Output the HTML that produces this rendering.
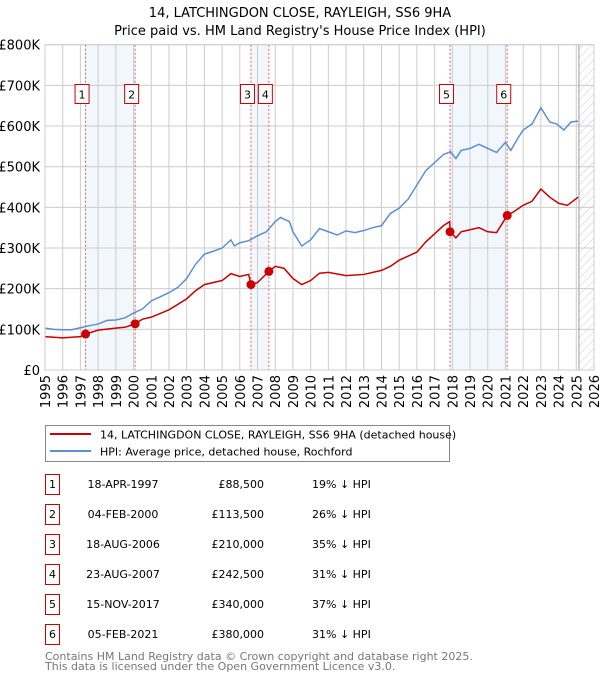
<!DOCTYPE html>
<html><head><meta charset="utf-8"><style>
body{margin:0;background:#fff;font-family:"DejaVu Sans","Liberation Sans",sans-serif;}
svg{display:block}
</style></head><body>
<svg width="600" height="680" viewBox="0 0 600 680" id="svg" font-family="DejaVu Sans, Liberation Sans, sans-serif">
<text x="300" y="17" text-anchor="middle" font-size="13">14, LATCHINGDON CLOSE, RAYLEIGH, SS6 9HA</text>
<text x="300" y="35" text-anchor="middle" font-size="13">Price paid vs. HM Land Registry's House Price Index (HPI)</text>
<defs><pattern id="hatch" width="6" height="6" patternUnits="userSpaceOnUse" patternTransform="rotate(45)"><line x1="0" y1="0" x2="0" y2="6" stroke="#ccc" stroke-width="1"/></pattern></defs>
<g id="plot"></g>
<g>
<rect x="45.5" y="425.5" width="404" height="36" fill="#fff" stroke="#888"/>
<line x1="50" y1="434" x2="91" y2="434" stroke="#cc0000" stroke-width="2"/>
<text x="100" y="438.5" font-size="11">14, LATCHINGDON CLOSE, RAYLEIGH, SS6 9HA (detached house)</text>
<line x1="50" y1="451" x2="91" y2="451" stroke="#5b8fd4" stroke-width="2"/>
<text x="100" y="455.5" font-size="11">HPI: Average price, detached house, Rochford</text>
</g>
<g id="table" font-size="11"></g>
<text x="45" y="660" font-size="11" fill="#777">Contains HM Land Registry data © Crown copyright and database right 2025.</text>
<text x="45" y="670" font-size="11" fill="#777">This data is licensed under the Open Government Licence v3.0.</text>
</svg>
<script>
const yTicks=[0,100,200,300,400,500,600,700,800];
const yTickLabels=["£0","£100K","£200K","£300K","£400K","£500K","£600K","£700K","£800K"];
const xYears=[1995,1996,1997,1998,1999,2000,2001,2002,2003,2004,2005,2006,2007,2008,2009,2010,2011,2012,2013,2014,2015,2016,2017,2018,2019,2020,2021,2022,2023,2024,2025,2026];
const hpiT=[1995,1995.5,1996,1996.5,1997,1997.5,1998,1998.5,1999,1999.5,2000,2000.5,2001,2001.5,2002,2002.5,2003,2003.5,2004,2004.5,2005,2005.5,2005.7,2006,2006.5,2007,2007.5,2008,2008.3,2008.8,2009,2009.5,2010,2010.5,2011,2011.5,2012,2012.5,2013,2013.5,2014,2014.5,2015,2015.5,2016,2016.5,2017,2017.5,2017.9,2018.2,2018.5,2019,2019.5,2020,2020.5,2021,2021.3,2021.7,2022,2022.5,2023,2023.5,2023.9,2024.3,2024.7,2025.1];
const hpiV=[103,100,99,99,104,109,113,122,123,128,140,150,170,180,190,203,225,260,285,292,300,320,305,313,318,330,340,365,375,365,340,305,320,348,340,332,342,338,343,350,355,385,398,420,455,490,510,530,537,520,540,545,555,545,535,560,540,570,590,605,645,610,605,590,610,612];
const redT=[1995,1996,1997,1997.3,1998,1999,1999.5,2000.1,2000.5,2001,2002,2003,2003.5,2004,2005,2005.5,2006,2006.5,2006.63,2007,2007.64,2008,2008.5,2009,2009.5,2010,2010.5,2011,2012,2013,2014,2014.5,2015,2016,2016.5,2017.5,2017.85,2017.88,2018.2,2018.5,2019,2019.5,2020,2020.5,2021.1,2021.5,2022,2022.5,2023,2023.5,2024,2024.5,2025.1];
const redV=[82,79,82,88.5,98,103,105,113.5,125,130,148,175,195,210,220,237,230,235,210,215,242.5,255,250,225,210,220,238,240,232,235,245,255,270,290,315,355,365,340,325,340,345,350,340,338,380,390,405,415,445,425,410,405,425];
const saleT=[1997.29,2000.09,2006.63,2007.64,2017.87,2021.1];
const saleV=[88.5,113.5,210,242.5,340,380];
const saleDates=["18-APR-1997","04-FEB-2000","18-AUG-2006","23-AUG-2007","15-NOV-2017","05-FEB-2021"];
const salePrices=["£88,500","£113,500","£210,000","£242,500","£340,000","£380,000"];
const salePct=["19% ↓ HPI","26% ↓ HPI","35% ↓ HPI","31% ↓ HPI","37% ↓ HPI","31% ↓ HPI"];

const NS="http://www.w3.org/2000/svg";
const X0=45,X1=594,Y0=370,Y1=44.7;
const x=t=>X0+(t-1995)*(X1-X0)/31;
const y=v=>Y0-v*(Y0-Y1)/800;
const plot=document.getElementById('plot');
function mk(tag,at,parent){const e=document.createElementNS(NS,tag);for(const k in at)e.setAttribute(k,at[k]);(parent||plot).appendChild(e);return e;}
for(let i=0;i<6;i+=2){
 const r=mk('rect',{x:x(saleT[i]),y:Y1,width:x(saleT[i+1])-x(saleT[i]),height:Y0-Y1,fill:'#f2f6fd'});
 
 
}
const hz=mk('rect',{x:x(2025.15),y:Y1,width:X1-x(2025.15),height:Y0-Y1,fill:'url(#hatch)'});


yTicks.forEach((v,i)=>{
 const l=mk('line',{x1:X0,x2:X1,y1:y(v),y2:y(v),stroke:'#ccc'});
 
 
 const t=mk('text',{x:40,y:y(v)+5,'text-anchor':'end','font-size':13});
 t.textContent=yTickLabels[i];
 
 
});
xYears.forEach(yr=>{
 const l=mk('line',{x1:x(yr),x2:x(yr),y1:Y1,y2:Y0,stroke:'#ccc'});
 
 
 const t=mk('text',{x:0,y:0,'text-anchor':'end','font-size':13,transform:`translate(${x(yr)+5},375) rotate(-90)`});
 t.textContent=yr;
 
 
});
const lastL=mk('line',{x1:x(2025.15),x2:x(2025.15),y1:Y1,y2:Y0,stroke:'#999'});


saleT.forEach(t=>{
 const l=mk('line',{x1:x(t),x2:x(t),y1:Y1,y2:Y0,stroke:'#e06060','stroke-dasharray':'2,2'});
 
 
});
const hp=mk('polyline',{points:hpiT.map((t,i)=>x(t)+','+y(hpiV[i])).join(' '),fill:'none',stroke:'#5b8fd4','stroke-width':1.5});


const rp=mk('polyline',{points:redT.map((t,i)=>x(t)+','+y(redV[i])).join(' '),fill:'none',stroke:'#cc0000','stroke-width':1.5});


saleT.forEach((t,i)=>{
 const c=mk('circle',{cx:x(t),cy:y(saleV[i]),r:4.5,fill:'#cc0000'});
 
 
 const g=mk('g',{});
 
 
 mk('rect',{x:x(t)-10.5,y:84.5,width:14,height:19,fill:'#fff',stroke:'#cc0000'},g);
 const tx=mk('text',{x:x(t)-3.5,y:98.5,'text-anchor':'middle','font-size':11},g);
 tx.textContent=i+1;
});
const ax=mk('rect',{x:X0,y:Y1,width:X1-X0,height:Y0-Y1,fill:'none',stroke:'#ccc'});


const tb=document.getElementById('table');
saleDates.forEach((d,i)=>{
 const yy=488+i*30;
 const g=mk('g',{},tb);
 
 
 mk('rect',{x:45.5,y:yy-13.5,width:14,height:20,fill:'#fff',stroke:'#cc0000'},g);
 const n=mk('text',{x:52.5,y:yy,'text-anchor':'middle'},g);n.textContent=i+1;
 const a=mk('text',{x:123,y:yy,'text-anchor':'middle'},g);a.textContent=d;
 const b=mk('text',{x:264,y:yy,'text-anchor':'end'},g);b.textContent=salePrices[i];
 const c=mk('text',{x:312,y:yy},g);c.textContent=salePct[i];
});
</script>
</body></html>
